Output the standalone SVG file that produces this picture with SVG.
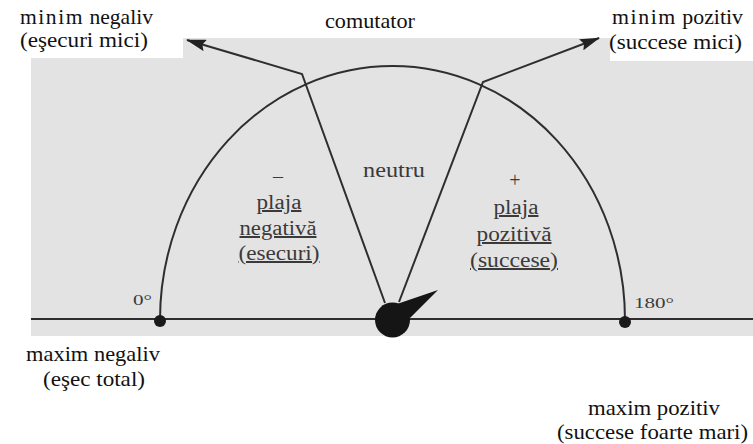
<svg xmlns="http://www.w3.org/2000/svg" width="753" height="444" viewBox="0 0 753 444">
<style>
.lbl{font-family:"Liberation Serif","Times New Roman",serif;font-size:21px;fill:#111}
.in{font-family:"Liberation Serif","Times New Roman",serif;font-size:20px;fill:#3a3a3a;text-anchor:middle}
.deg{font-family:"Liberation Serif","Times New Roman",serif;font-size:15px;fill:#3a3a3a}
.ln{fill:none;stroke:#2e2e2e;stroke-width:2}
</style>
<defs>
<marker id="ah2" viewBox="0 0 20 12" refX="19" refY="6" markerWidth="20" markerHeight="12" markerUnits="userSpaceOnUse" orient="auto">
<path d="M0,0 L20,6 L0,12 L3,6 Z" fill="#222"/>
</marker>
</defs>
<g id="background">
<path d="M31,58 L183,58 L183,38 L610,38 L610,61 L753,61 L753,336 L31,336 Z" fill="#e3e3e3"/>
</g>
<g id="connectors">
<line class="ln" x1="31" y1="319" x2="753" y2="319"/>
<path class="ln" d="M160,320 A232.5,254 0 0 1 625,320"/>
<path class="ln" d="M385,303 L302,74 L187,40" marker-end="url(#ah2)"/>
<path class="ln" d="M399,302 L483,82 L599,38" marker-end="url(#ah2)"/>
</g>
<g id="knob">
<circle cx="392.5" cy="320" r="17.5" fill="#151515"/>
<polygon points="397,304 438,290 410,318" fill="#151515"/>
</g>
<g id="end-left">
<circle cx="160" cy="321" r="6" fill="#1a1a1a"/>
<text class="deg" x="133" y="305" textLength="19" lengthAdjust="spacingAndGlyphs">0°</text>
</g>
<g id="end-right">
<circle cx="625" cy="322" r="6" fill="#1a1a1a"/>
<text class="deg" x="634" y="308" textLength="40" lengthAdjust="spacingAndGlyphs">180°</text>
</g>
<g id="minim-negativ">
<text class="lbl" x="20" y="24" textLength="133" lengthAdjust="spacingAndGlyphs"><tspan letter-spacing="1.5">minim</tspan> negaliv</text>
<text class="lbl" x="20" y="47" textLength="128" lengthAdjust="spacingAndGlyphs">(eşecuri mici)</text>
</g>
<g id="comutator">
<text class="lbl" x="325" y="28" textLength="90" lengthAdjust="spacingAndGlyphs">comutator</text>
</g>
<g id="minim-pozitiv">
<text class="lbl" x="612" y="24" textLength="131" lengthAdjust="spacingAndGlyphs"><tspan letter-spacing="1.5">minim</tspan> pozitiv</text>
<text class="lbl" x="609" y="49" textLength="133" lengthAdjust="spacingAndGlyphs">(succese mici)</text>
</g>
<g id="maxim-negativ">
<text class="lbl" x="26" y="361" textLength="134" lengthAdjust="spacingAndGlyphs">maxim negaliv</text>
<text class="lbl" x="43" y="386" textLength="102" lengthAdjust="spacingAndGlyphs">(eşec total)</text>
</g>
<g id="maxim-pozitiv">
<text class="lbl" x="588" y="415" textLength="132" lengthAdjust="spacingAndGlyphs">maxim pozitiv</text>
<text class="lbl" x="557" y="439" textLength="191" lengthAdjust="spacingAndGlyphs">(succese foarte mari)</text>
</g>
<g id="plaja-negativa">
<text class="in" x="278" y="183">–</text>
<text class="in" x="279" y="209" textLength="45" lengthAdjust="spacingAndGlyphs" text-decoration="underline">plaja</text>
<text class="in" x="278" y="235" textLength="77" lengthAdjust="spacingAndGlyphs" text-decoration="underline">negativă</text>
<text class="in" x="279" y="260" textLength="81" lengthAdjust="spacingAndGlyphs" text-decoration="underline">(esecuri)</text>
</g>
<g id="neutru">
<text class="in" x="394" y="177" textLength="62" lengthAdjust="spacingAndGlyphs">neutru</text>
</g>
<g id="plaja-pozitiva">
<text class="in" x="515" y="187">+</text>
<text class="in" x="516" y="214" textLength="45" lengthAdjust="spacingAndGlyphs" text-decoration="underline">plaja</text>
<text class="in" x="514" y="241" textLength="75" lengthAdjust="spacingAndGlyphs" text-decoration="underline">pozitivă</text>
<text class="in" x="514" y="267" textLength="88" lengthAdjust="spacingAndGlyphs" text-decoration="underline">(succese)</text>
</g>
</svg>
